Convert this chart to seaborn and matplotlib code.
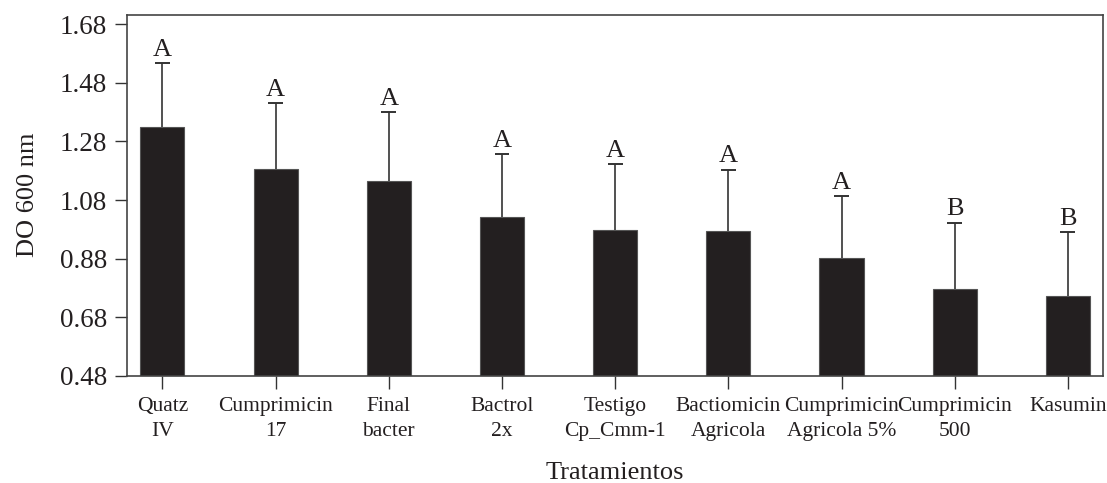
import matplotlib
matplotlib.use("Agg")
import matplotlib.pyplot as plt
import seaborn as sns
import pandas as pd

categories = ["Quatz\nIV", "Cumprimicin\n17", "Final\nbacter", "Bactrol\n2x",
              "Testigo\nCp_Cmm-1", "Bactiomicin\nAgricola", "Cumprimicin\nAgricola 5%",
              "Cumprimicin\n500", "Kasumin"]
means = [1.330, 1.186, 1.146, 1.023, 0.978, 0.974, 0.883, 0.775, 0.751]
upper = [1.547, 1.412, 1.380, 1.237, 1.204, 1.184, 1.093, 1.003, 0.970]
letters = ["A", "A", "A", "A", "A", "A", "A", "B", "B"]
yticks = [0.48, 0.68, 0.88, 1.08, 1.28, 1.48, 1.68]

sns.set_theme(style="ticks")
plt.rcParams['font.family'] = ['Liberation Serif', 'DejaVu Serif']

df = pd.DataFrame({"cat": categories, "mean": means})

fig = plt.figure(figsize=(11.07, 4.83), dpi=100)
ax = fig.add_axes([0.1145, 0.2222, 0.8819, 0.7474])
dark = "#231f20"
sns.barplot(data=df, x="cat", y="mean", color=dark, width=0.39, errorbar=None,
            edgecolor="#555555", linewidth=0.8, saturation=1, ax=ax)
xs = list(range(len(categories)))
cap = 0.066
ax.vlines(xs, means, upper, colors="#333333", linewidth=1.2, zorder=3)
ax.hlines(upper, [x - cap for x in xs], [x + cap for x in xs],
          colors="#333333", linewidth=1.4, zorder=3)
for x, u, l in zip(xs, upper, letters):
    ax.annotate(l, (x, u), xytext=(0, 1.5), textcoords="offset points",
                ha="center", va="bottom", fontsize=19, color=dark)

ax.set_ylim(0.48, 1.713)
ax.set_xlim(-0.315, 8.31)
ax.set_yticks(yticks)
ax.set_yticklabels([f"{t:.2f}" for t in yticks])
ax.tick_params(axis="y", labelsize=19.5, length=9, width=1, direction="out", pad=5,
               color="#333333", labelcolor=dark)
ax.tick_params(axis="x", labelsize=15.5, length=9, width=1, direction="out", pad=6,
               color="#333333", labelcolor=dark)
for lab in ax.get_xticklabels():
    lab.set_linespacing(1.45)
for s in ax.spines.values():
    s.set_visible(True)
    s.set_color("#444444")
    s.set_linewidth(1.2)
ax.set_xlabel("Tratamientos", fontsize=19, labelpad=15, color=dark)
ax.set_ylabel("DO 600 nm", fontsize=19, labelpad=15, color=dark)
fig.savefig("out.png", dpi=100)
